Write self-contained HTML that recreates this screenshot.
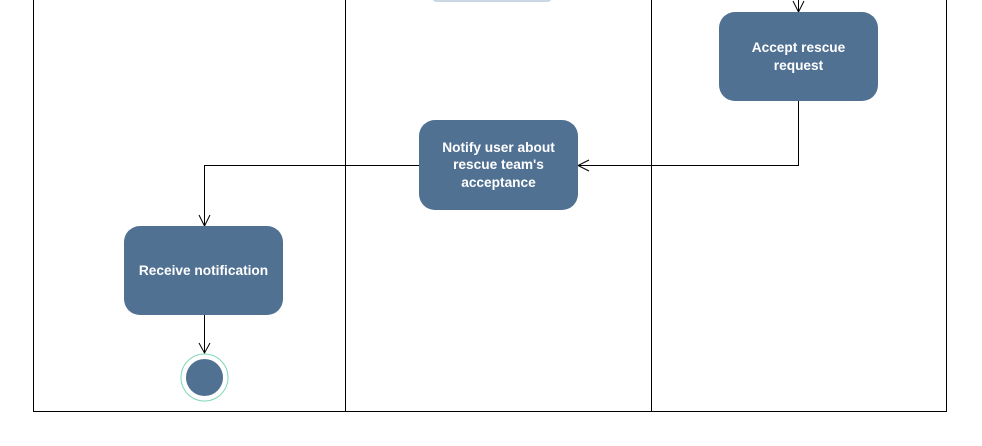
<!DOCTYPE html>
<html><head><style>
body{margin:0;background:#fff;width:982px;height:441px;overflow:hidden}
text{font-family:"Liberation Sans",sans-serif;font-weight:bold;font-size:13.7px;fill:#fff}
</style></head><body>
<svg width="982" height="441" xmlns="http://www.w3.org/2000/svg">
<rect x="433" y="-4" width="118" height="6" rx="3" fill="#c9d6e4"/>
<g stroke="#000" stroke-width="1" fill="none">
<line x1="33.5" y1="0" x2="33.5" y2="411.5"/>
<line x1="345.5" y1="0" x2="345.5" y2="411.5"/>
<line x1="651.5" y1="0" x2="651.5" y2="411.5"/>
<line x1="946.5" y1="0" x2="946.5" y2="411.5"/>
<line x1="33" y1="411.5" x2="947" y2="411.5"/>
<polyline points="798.5,0 798.5,12"/>
<polyline points="793,1 798.5,12 804,1"/>
<polyline points="798.5,101 798.5,165.5 578,165.5"/>
<polyline points="589,160 578,165.5 589,171"/>
<polyline points="419,165.5 204.5,165.5 204.5,226"/>
<polyline points="199,215 204.5,226 210,215"/>
<polyline points="204.5,315 204.5,353"/>
<polyline points="199,343 204.5,353 210,343"/>
</g>
<rect x="719" y="12" width="159" height="89" rx="16" fill="#517193"/>
<text x="798.5" y="52" text-anchor="middle">Accept rescue</text>
<text x="798.5" y="70" text-anchor="middle">request</text>
<rect x="419" y="120" width="159" height="90" rx="16" fill="#517193"/>
<text x="498.5" y="152" text-anchor="middle">Notify user about</text>
<text x="498.5" y="169" text-anchor="middle">rescue team's</text>
<text x="498.5" y="187" text-anchor="middle">acceptance</text>
<rect x="124" y="226" width="159" height="89" rx="16" fill="#517193"/>
<text x="203.5" y="275" text-anchor="middle">Receive notification</text>
<circle cx="204.5" cy="377.5" r="23.5" fill="none" stroke="#7fd6b6" stroke-width="1"/>
<circle cx="204.5" cy="377.5" r="18.5" fill="#517193"/>
</svg>
</body></html>
